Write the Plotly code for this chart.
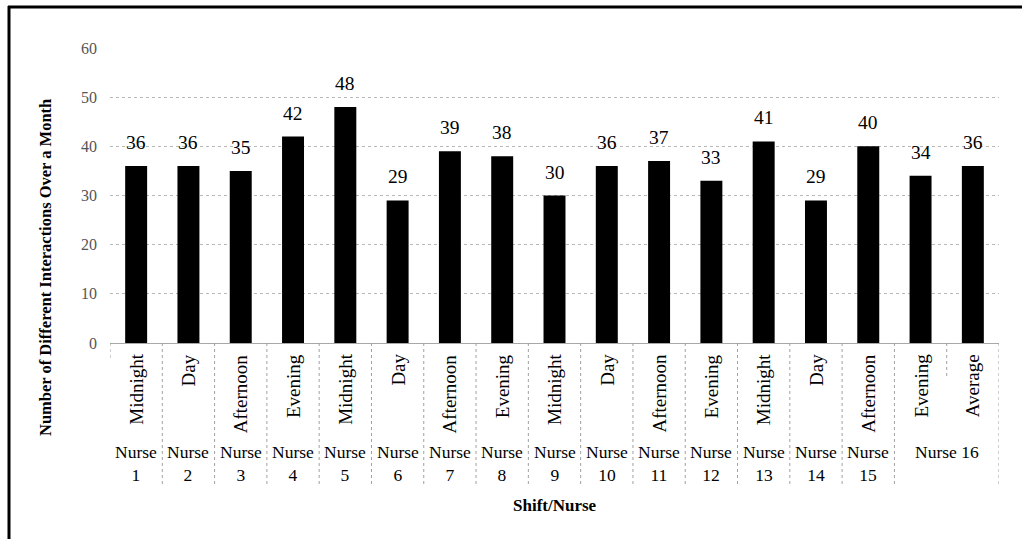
import plotly.graph_objects as go

shifts = ["Midnight", "Day", "Afternoon", "Evening", "Midnight", "Day", "Afternoon", "Evening",
          "Midnight", "Day", "Afternoon", "Evening", "Midnight", "Day", "Afternoon", "Evening", "Average"]
values = [36, 36, 35, 42, 48, 29, 39, 38, 30, 36, 37, 33, 41, 29, 40, 34, 36]
nurse_labels = ["Nurse<br>1", "Nurse<br>2", "Nurse<br>3", "Nurse<br>4", "Nurse<br>5", "Nurse<br>6",
                "Nurse<br>7", "Nurse<br>8", "Nurse<br>9", "Nurse<br>10", "Nurse<br>11", "Nurse<br>12",
                "Nurse<br>13", "Nurse<br>14", "Nurse<br>15", "Nurse 16"]
nurse_pos = [0, 1, 2, 3, 4, 5, 6, 7, 8, 9, 10, 11, 12, 13, 14, 15.5]
y_ticks = [0, 10, 20, 30, 40, 50, 60]

FONT = "Liberation Serif, Times New Roman, serif"
W, H = 1022, 539
ML, MR, MT, MB = 110, 23, 48, 196
PW, PH = W - ML - MR, H - MT - MB

def px_x(p):
    return (p - ML) / PW

def px_y(p):
    return (H - MB - p) / PH

xs = list(range(len(values)))

fig = go.Figure()
fig.add_trace(go.Bar(x=xs, y=values, marker=dict(color="black", line=dict(width=0)),
                     width=0.42, hoverinfo="skip"))

annotations = []
for x, v in zip(xs, values):
    annotations.append(dict(x=x, y=v, xref="x", yref="y", text=str(v), showarrow=False,
                            yanchor="bottom", yshift=11, font=dict(size=19.5, family=FONT, color="black")))
for x, s in zip(xs, shifts):
    annotations.append(dict(x=x, y=px_y(352), xref="x", yref="paper", text=s, showarrow=False,
                            textangle=-90, yanchor="top", xanchor="center",
                            font=dict(size=19, family=FONT, color="black")))
for x, s in zip(nurse_pos, nurse_labels):
    annotations.append(dict(x=x, y=px_y(440), xref="x", yref="paper", text=s, showarrow=False,
                            yanchor="top", xanchor="center",
                            font=dict(size=17.5, family=FONT, color="black")))
annotations.append(dict(x=px_x(555), y=px_y(505), xref="paper", yref="paper", text="<b>Shift/Nurse</b>",
                        showarrow=False, yanchor="middle", xanchor="center",
                        font=dict(size=17, family=FONT, color="black")))
annotations.append(dict(x=px_x(45), y=px_y(268), xref="paper", yref="paper",
                        text="<b>Number of Different Interactions Over a Month</b>",
                        showarrow=False, textangle=-90, xanchor="center", yanchor="middle",
                        font=dict(size=16.5, family=FONT, color="black")))

shapes = []
# separators between categories
for k in range(len(values) + 1):
    b = k - 0.5
    if k == 0:
        y1 = px_y(358)
    elif k == len(values) - 1:
        y1 = px_y(378)
    else:
        y1 = px_y(487)
    shapes.append(dict(type="line", xref="x", yref="paper", x0=b, x1=b, y0=0, y1=y1,
                       line=dict(color="#a0a0a0", width=1, dash="dot")))
# border lines (scan frame)
shapes.append(dict(type="line", xref="paper", yref="paper", x0=px_x(9), x1=px_x(9),
                   y0=px_y(6), y1=px_y(545), line=dict(color="black", width=3)))
shapes.append(dict(type="line", xref="paper", yref="paper", x0=px_x(8), x1=px_x(1030),
                   y0=px_y(7), y1=px_y(7), line=dict(color="black", width=3)))

fig.update_layout(
    width=W, height=H,
    margin=dict(l=ML, r=MR, t=MT, b=MB),
    paper_bgcolor="white", plot_bgcolor="white",
    showlegend=False,
    annotations=annotations,
    shapes=shapes,
    font=dict(family=FONT),
    xaxis=dict(range=[-0.5, len(values) - 0.5], showticklabels=False, showgrid=False,
               zeroline=False, showline=False, ticks=""),
    yaxis=dict(range=[0, 60], tickvals=y_ticks, ticktext=[str(t) for t in y_ticks],
               showgrid=True, gridcolor="#b8b8b8", griddash="dot", gridwidth=1,
               zeroline=True, zerolinecolor="#a8a8a8", zerolinewidth=1,
               showline=False, ticks="", ticklabelstandoff=12,
               tickfont=dict(size=16, family=FONT, color="#555555")),
)
fig.write_html("out.html")
